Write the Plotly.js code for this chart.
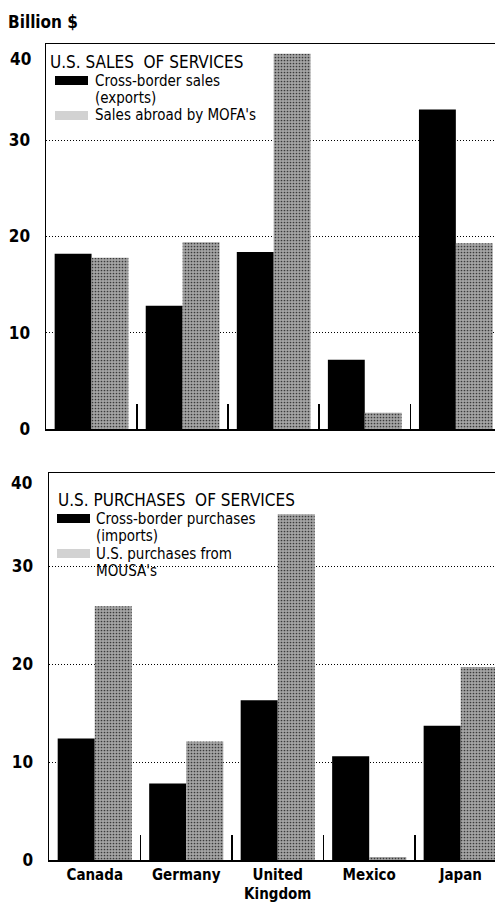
<!DOCTYPE html>
<html>
<head>
<meta charset="utf-8">
<script src="https://cdn.plot.ly/plotly-3.0.1.min.js"></script>
<style>
html,body{margin:0;padding:0;background:#fff;overflow:hidden;}
#chart{width:495px;height:904px;}
</style>
</head>
<body>
<div id="chart"></div>
<script>
const categories = ['Canada', 'Germany', 'United<br>Kingdom', 'Mexico', 'Japan'];
const salesCrossBorder = [18.2, 12.8, 18.4, 7.2, 33.2];
const salesMOFA = [17.8, 19.4, 39.0, 1.7, 19.3];
const purchCrossBorder = [12.4, 7.8, 16.3, 10.6, 13.7];
const purchMOUSA = [25.9, 12.1, 35.3, 0.3, 19.7];
const yTicks = [0, 10, 20, 30];

const salesTitle = 'U.S. SALES  OF SERVICES';
const salesNames = ['Cross-border sales', '(exports)', "Sales abroad by MOFA's"];
const purchTitle = 'U.S. PURCHASES  OF SERVICES';
const purchNames = ['Cross-border purchases', '(imports)', 'U.S. purchases from', "MOUSA's"];

const W = 495, H = 904;
const FONT = '"Liberation Sans Narrow", "DejaVu Sans Condensed", "Arial Narrow", "Liberation Sans", Arial, sans-serif';
const BLACK = '#000';
const GRAY = '#a4a4a4';
const grayPattern = {shape: '.', fgcolor: '#3a3a3a', bgcolor: GRAY, size: 3, solidity: 0.25};

const traces = [
  {type: 'bar', x: categories, y: salesCrossBorder, name: salesNames[0] + ' ' + salesNames[1],
   marker: {color: BLACK}, xaxis: 'x', yaxis: 'y'},
  {type: 'bar', x: categories, y: salesMOFA, name: salesNames[2],
   marker: {color: GRAY, pattern: grayPattern}, xaxis: 'x', yaxis: 'y'},
  {type: 'bar', x: categories, y: purchCrossBorder, name: purchNames[0] + ' ' + purchNames[1],
   marker: {color: BLACK}, xaxis: 'x2', yaxis: 'y2'},
  {type: 'bar', x: categories, y: purchMOUSA, name: purchNames[2] + ' ' + purchNames[3],
   marker: {color: GRAY, pattern: grayPattern}, xaxis: 'x2', yaxis: 'y2'}
];

const xCommon = {
  type: 'category', showline: true, linecolor: '#000', linewidth: 1.5, mirror: true,
  ticks: 'inside', tickson: 'boundaries', ticklen: 25, tickcolor: '#000', tickwidth: 1.5,
  showgrid: false, zeroline: false, fixedrange: true,
  tickfont: {family: FONT, size: 15, color: '#000', weight: 'bold'}
};
const yCommon = {
  showline: true, linecolor: '#000', linewidth: 1.5, ticks: '',
  tickvals: yTicks, showgrid: true, gridcolor: '#000', gridwidth: 1, griddash: '1px,2px',
  zeroline: false, fixedrange: true, ticklabelstandoff: 11,
  tickfont: {family: FONT, size: 17, color: '#000', weight: 'bold'}
};

// legend built from annotations (text) and shapes (swatches)
const annotations = [];
const shapes = [];
function txt(text, x, y, size, bold) {
  annotations.push({text: bold ? '<b>' + text + '</b>' : text, xref: 'paper', yref: 'paper',
    x: x / W, y: 1 - y / H, xanchor: 'left', yanchor: 'middle', showarrow: false,
    font: {family: FONT, size: size, color: '#000'}});
}
function swatch(x0, y0, x1, y1, color) {
  shapes.push({type: 'rect', xref: 'paper', yref: 'paper', x0: x0 / W, x1: x1 / W,
    y0: 1 - y1 / H, y1: 1 - y0 / H, line: {width: 0}, fillcolor: color, layer: 'above'});
}

txt('Billion $', 6, 22, 17, true);
annotations.push({text: '<b>40</b>', xref: 'paper', yref: 'paper', x: 33 / W, y: 1 - 59 / H,
  xanchor: 'right', yanchor: 'middle', showarrow: false, font: {family: FONT, size: 17, color: '#000'}});
annotations.push({text: '<b>40</b>', xref: 'paper', yref: 'paper', x: 34 / W, y: 1 - 483 / H,
  xanchor: 'right', yanchor: 'middle', showarrow: false, font: {family: FONT, size: 17, color: '#000'}});

const LS = 17.5; // legend line spacing
// top legend
txt(salesTitle, 48, 62, 17, false);
swatch(55, 76, 88, 85, BLACK);
txt(salesNames[0], 93, 80.5, 15, false);
txt(salesNames[1], 93, 80.5 + LS, 15, false);
swatch(55, 111, 88, 120, '#d2d2d2');
txt(salesNames[2], 93, 80.5 + 2 * LS, 15, false);

// bottom legend
txt(purchTitle, 56, 500, 17, false);
swatch(57, 514, 90, 523, BLACK);
txt(purchNames[0], 94, 518.5, 15, false);
txt(purchNames[1], 94, 518.5 + LS, 15, false);
swatch(57, 549, 90, 558, '#d2d2d2');
txt(purchNames[2], 94, 518.5 + 2 * LS, 15, false);
txt(purchNames[3], 94, 518.5 + 3 * LS, 15, false);

const layout = {
  width: W, height: H,
  margin: {l: 0, r: 0, t: 0, b: 0},
  paper_bgcolor: '#fff', plot_bgcolor: '#fff',
  barmode: 'group', bargap: 0.19, bargroupgap: 0,
  font: {family: FONT, color: '#000'},
  showlegend: false,
  xaxis: Object.assign({}, xCommon, {domain: [46 / W, 1], range: [-0.5, 4.43], showticklabels: false, anchor: 'y'}),
  yaxis: Object.assign({}, yCommon, {domain: [1 - 429 / H, 1 - 44 / H], range: [0, 40], anchor: 'x'}),
  xaxis2: Object.assign({}, xCommon, {domain: [49 / W, 1], range: [-0.5, 4.375], anchor: 'y2'}),
  yaxis2: Object.assign({}, yCommon, {domain: [1 - 860 / H, 1 - 473 / H], range: [0, 39.5], anchor: 'x2'}),
  annotations: annotations,
  shapes: shapes
};

Plotly.newPlot('chart', traces, layout, {displayModeBar: false, staticPlot: true});
</script>
</body>
</html>
